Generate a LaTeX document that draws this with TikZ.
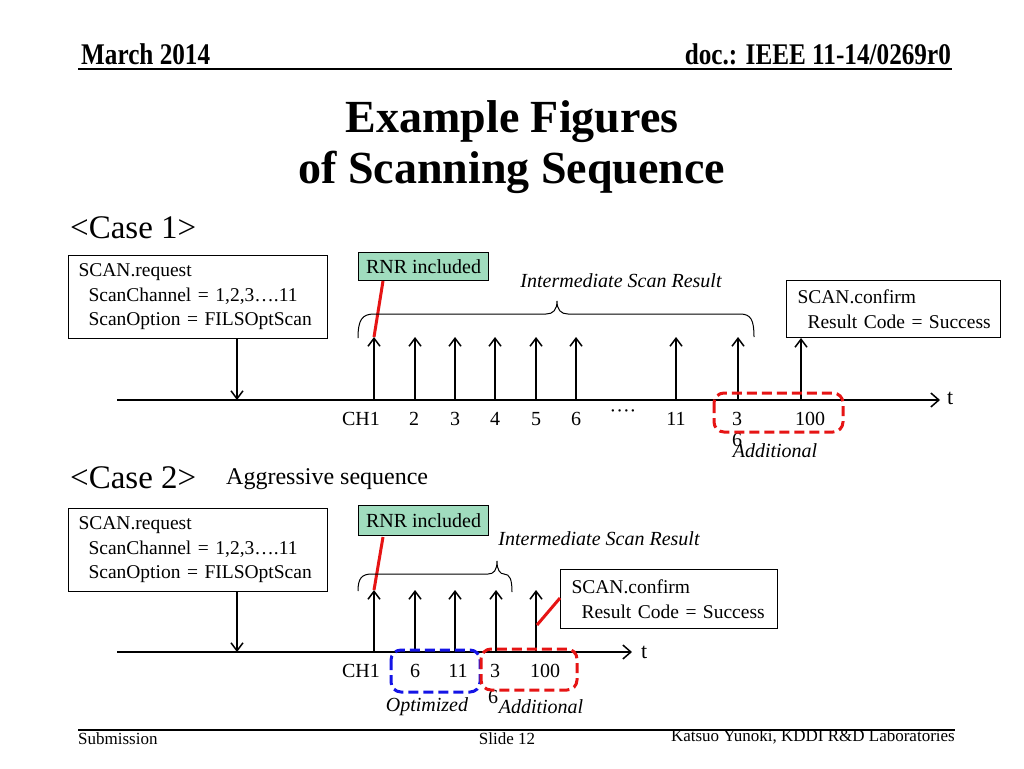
\documentclass[tikz,border=0pt]{standalone}
\usepackage{fontspec}
\setmainfont{Liberation Serif}
\usetikzlibrary{arrows.meta}
\definecolor{rnrgreen}{RGB}{160,220,190}
\definecolor{dred}{RGB}{230,20,20}
\definecolor{dblue}{RGB}{20,20,230}
\tikzset{
  txt/.style={font=\fontsize{20}{25}\selectfont, inner sep=0pt},
  ital/.style={font=\fontsize{20}{25}\selectfont\itshape, inner sep=0pt},
  infobox/.style={draw, line width=1pt, font=\fontsize{19.5}{24.5}\selectfont, align=left, inner sep=0pt, anchor=north west},
  rnrbox/.style={draw, line width=1pt, fill=rnrgreen, font=\fontsize{20}{24}\selectfont, inner sep=0pt, anchor=north west, minimum width=130pt, minimum height=28pt},
  axis/.style={line width=1.5pt, -{Straight Barb[length=8pt,width=14pt,line width=1.5pt]}},
  evarrow/.style={line width=1.5pt, -{Straight Barb[length=8pt,width=12pt,line width=1.5pt]}},
  redlink/.style={draw=dred, line width=3pt},
  bracepath/.style={line width=1pt},
  redzone/.style={draw=dred, dashed, dash pattern=on 10pt off 5pt, line width=3pt, rounded corners=10pt},
  bluezone/.style={draw=dblue, dashed, dash pattern=on 10pt off 5pt, line width=3pt, rounded corners=10pt},
}
\begin{document}
\begin{tikzpicture}[x=1pt,y=-1pt]
\useasboundingbox (0,0) rectangle (1024,768);
\fill[white] (0,0) rectangle (1024,768);

% header
\node[anchor=base west, inner sep=0pt, font=\fontsize{30}{32}\selectfont\bfseries, xscale=0.84] (hdate) at (81,64) {March 2014};
\node[anchor=base east, inner sep=0pt, font=\fontsize{30}{32}\selectfont\bfseries, xscale=0.84] (hdoc) at (951,64) {doc.: IEEE 11-14/0269r0};
\draw[line width=1.5pt] (78,69) -- (952,69);

% title
\node[inner sep=0pt, font=\fontsize{46}{52}\selectfont\bfseries] (t1) at (512,122) {Example Figures};
\node[inner sep=0pt, font=\fontsize{46}{52}\selectfont\bfseries] (t2) at (512,172) {of Scanning Sequence};

% ---------------- Case 1 ----------------
\node[anchor=west, inner sep=0pt, font=\fontsize{33}{36}\selectfont] (c1) at (70,228) {<Case 1>};

\node[infobox, minimum width=259pt, minimum height=83pt, text width=259pt] (req1) at (68,255)
  {\hspace*{10pt}SCAN.request\\\hspace*{20pt}ScanChannel = 1,2,3….11\\\hspace*{20pt}ScanOption = FILSOptScan};

\node[rnrbox] (rnr1) at (358,252) {RNR included};

\node[infobox, minimum width=214pt, minimum height=57pt, text width=214pt] (conf1) at (786,280)
  {\hspace*{11pt}SCAN.confirm\\\hspace*{21pt}Result Code = Success};

% axis
\coordinate (ax1s) at (117,400);
\coordinate (ax1e) at (940,400);
\draw[axis] (ax1s) -- (ax1e);
\node[txt, anchor=west, font=\fontsize{22}{25}\selectfont] (tt1) at (947,398) {t};

% request arrow
\coordinate (rq1) at (237,400);
\draw[evarrow] (req1.south -| rq1) -- (rq1);

% event arrows
\foreach \n/\x in {a/374,b/415,c/455,d/495,e/536,f/576,g/676,h/738}{
  \coordinate (b1\n) at (\x,400);
  \coordinate (u1\n) at (\x,337);
  \draw[evarrow] (b1\n) -- (u1\n);
}
\coordinate (b1i) at (801,400);
\draw[evarrow] (b1i) -- (conf1.south -| b1i);

% red link RNR
\coordinate (r1a) at (383,281);
\draw[redlink] (r1a) -- (u1a);

% brace
\draw[bracepath] (358,338) .. controls (358,320) and (362,314) .. (374,314) -- (546,314)
  .. controls (553,314) and (557,310) .. (557,301)
  .. controls (557,310) and (561,314) .. (568,314) -- (740,314)
  .. controls (751,314) and (754,320) .. (754,337);
\node[ital] (isr1) at (621,281) {Intermediate Scan Result};

% labels
\node[txt] (l1a) at (361,419) {CH1};
\node[txt] (l1b) at (414,419) {2};
\node[txt] (l1c) at (455,419) {3};
\node[txt] (l1d) at (495,419) {4};
\node[txt] (l1e) at (536,419) {5};
\node[txt] (l1f) at (576,419) {6};
\node[txt] (l1dots) at (623,414) {····};
\node[txt] (l1g) at (676,419) {11};
\node[txt] (l1h) at (737,419) {3};
\node[txt] (l1i) at (810,419) {100};
\node[txt] (l1h6) at (737,440) {6};
\node[ital] (add1) at (775,451) {Additional};

\draw[redzone] (714,393) rectangle (843,432);

% ---------------- Case 2 ----------------
\node[anchor=west, inner sep=0pt, font=\fontsize{33}{36}\selectfont] (c2) at (70,478) {<Case 2>};
\node[anchor=west, inner sep=0pt, font=\fontsize{24}{26}\selectfont] (aggr) at (226,479) {Aggressive sequence};

\node[infobox, minimum width=259pt, minimum height=83pt, text width=259pt] (req2) at (68,508)
  {\hspace*{10pt}SCAN.request\\\hspace*{20pt}ScanChannel = 1,2,3….11\\\hspace*{20pt}ScanOption = FILSOptScan};

\node[rnrbox, minimum height=30pt] (rnr2) at (358,505) {RNR included};

\node[infobox, minimum width=217pt, minimum height=59pt, text width=217pt] (conf2) at (560,569)
  {\hspace*{11pt}SCAN.confirm\\\hspace*{21pt}Result Code = Success};

\coordinate (ax2s) at (117,652);
\coordinate (ax2e) at (632,652);
\draw[axis] (ax2s) -- (ax2e);
\node[txt, anchor=west, font=\fontsize{22}{25}\selectfont] (tt2) at (641,652) {t};

\coordinate (rq2) at (237,652);
\draw[evarrow] (req2.south -| rq2) -- (rq2);

\foreach \n/\x in {a/374,b/415,c/455,d/496,e/536}{
  \coordinate (b2\n) at (\x,652);
  \coordinate (u2\n) at (\x,590);
  \draw[evarrow] (b2\n) -- (u2\n);
}

\coordinate (r2a) at (383,537);
\draw[redlink] (r2a) -- (u2a);
\coordinate (r2b) at (537,625);
\draw[redlink] (r2b) -- (conf2.west |- 0,598);

\draw[bracepath] (358,591) .. controls (358,578) and (362,574) .. (372,574) -- (488,574)
  .. controls (494,574) and (497,570) .. (497,561)
  .. controls (497,570) and (500,574) .. (504,574)
  .. controls (510,574) and (512,580) .. (512,592);
\node[ital] (isr2) at (599,539) {Intermediate Scan Result};

\node[txt] (l2a) at (361,671) {CH1};
\node[txt] (l2b) at (415,671) {6};
\node[txt] (l2c) at (458,671) {11};
\node[txt] (l2d) at (495,671) {3};
\node[txt] (l2e) at (545,671) {100};
\node[txt] (l2d6) at (493,697) {6};
\node[ital] (opt2) at (427,707) {Optimized};
\node[ital] (add2) at (541,707) {Additional};

\draw[bluezone] (391,650) rectangle (480,692);
\draw[redzone] (481,649) rectangle (577,690);

% footer
\draw[line width=1.5pt] (78,730) -- (955,730);
\node[anchor=base west, inner sep=0pt, font=\fontsize{17}{20}\selectfont] (fs) at (78,744) {Submission};
\node[anchor=base, inner sep=0pt, font=\fontsize{17}{20}\selectfont] (fsl) at (507,744) {Slide 12};
\node[anchor=base east, inner sep=0pt, font=\fontsize{17}{20}\selectfont] (fa) at (955,741) {Katsuo Yunoki, KDDI R\&D Laboratories};
\end{tikzpicture}
\end{document}
